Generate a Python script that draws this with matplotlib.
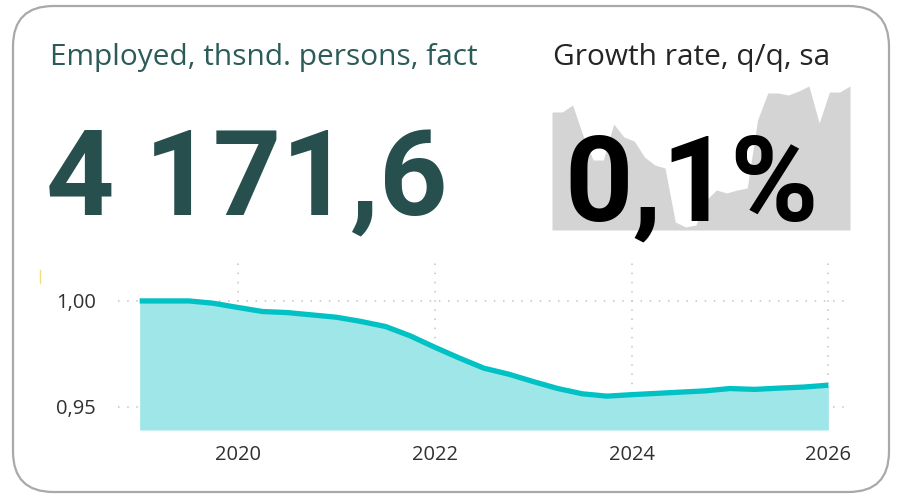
import matplotlib

matplotlib.use("Agg")

import matplotlib.pyplot as plt
from matplotlib.lines import Line2D
from matplotlib.patches import FancyBboxPatch

# Employment index, quarterly, 2019Q1 = 1.00
quarters = [2019 + i * 0.25 for i in range(29)]
employment_index = [
    1.0000, 1.0000, 1.0000, 0.9989, 0.9969, 0.9950, 0.9945, 0.9934,
    0.9923, 0.9903, 0.9879, 0.9835, 0.9781, 0.9730, 0.9682, 0.9654,
    0.9619, 0.9586, 0.9561, 0.9550, 0.9557, 0.9563, 0.9569, 0.9575,
    0.9586, 0.9582, 0.9588, 0.9593, 0.9602,
]
year_ticks = [2020, 2022, 2024, 2026]
index_ticks = [0.95, 1.00]
index_labels = ["0,95", "1,00"]

# Background sparkline for the q/q growth card
growth_spark = [
    118, 118, 125, 95, 70, 70, 106, 93, 89, 73,
    65, 62, 8, 3, 5, 30, 40, 37, 40, 42,
    110, 137, 137, 135, 139, 144, 107, 138, 138, 144,
]

title_left = "Employed, thsnd. persons, fact"
value_left = "4 171,6"
title_right = "Growth rate, q/q, sa"
value_right = "0,1%"

W, H = 899, 497
fig = plt.figure(figsize=(W / 100, H / 100), dpi=100)
fig.patch.set_facecolor("white")


def fx(px):
    return px / W


def fy(py):
    return 1 - py / H


# card frame
frame = FancyBboxPatch(
    (fx(13), fy(492)), fx(889) - fx(13), fy(6) - fy(492),
    boxstyle="round,pad=0,rounding_size=0.045",
    transform=fig.transFigure, facecolor="none", edgecolor="#a9a9a9",
    linewidth=1.6, mutation_aspect=W / H,
)
fig.patches.append(frame)

family = ["Open Sans", "DejaVu Sans"]
big_family = ["Roboto", "DejaVu Sans"]

fig.text(fx(50), fy(65), title_left, fontsize=21.5, color="#2c5c59",
         family=family, ha="left", va="baseline")
fig.text(fx(553), fy(65), title_right, fontsize=21.5, color="#252525",
         family=family, ha="left", va="baseline")

# sparkline behind the growth value
ax_s = fig.add_axes([fx(552), fy(230), fx(298), (230 - 85) / H])
ax_s.fill_between(range(len(growth_spark)), growth_spark, 0,
                  color="#d4d4d4", linewidth=0)
ax_s.set_xlim(0, len(growth_spark) - 1)
ax_s.set_ylim(0, 145)
ax_s.axis("off")

fig.text(fx(46), fy(215), value_left, fontsize=86, fontweight="bold",
         color="#264f4d", family=big_family, ha="left", va="baseline")
fig.text(fx(564), fy(220), value_right, fontsize=86, fontweight="bold",
         color="#000000", family=big_family, ha="left", va="baseline", zorder=5)

# index chart
ax = fig.add_axes([fx(118), fy(430), fx(849 - 118), (430 - 262) / H])
ymin, ymax = 0.939, 1.0184
ax.fill_between(quarters, employment_index, ymin, color="#9ee6e8", linewidth=0)
ax.plot(quarters, employment_index, color="#00c1c4", linewidth=3.8,
        solid_capstyle="butt")
ax.set_xlim(2018.78, 2026.21)
ax.set_ylim(ymin, ymax)
ax.set_xticks(year_ticks)
ax.set_xticklabels([str(y) for y in year_ticks])
ax.set_yticks(index_ticks)
ax.set_yticklabels(index_labels)
ax.grid(True, color="#c4c4c4", linestyle=(0, (1, 5)), linewidth=1.1)
ax.set_axisbelow(True)
for s in ax.spines.values():
    s.set_visible(False)
ax.tick_params(length=0, labelsize=14.5, labelcolor="#303030")
ax.tick_params(axis="y", pad=16)
ax.tick_params(axis="x", pad=11)
for lab in ax.get_xticklabels() + ax.get_yticklabels():
    lab.set_family(family)

fig.lines.append(Line2D([fx(40), fx(40)], [fy(270), fy(283)],
                        transform=fig.transFigure, color="#f2df7a", linewidth=1))

fig.savefig("out.png", dpi=100, facecolor="white")
